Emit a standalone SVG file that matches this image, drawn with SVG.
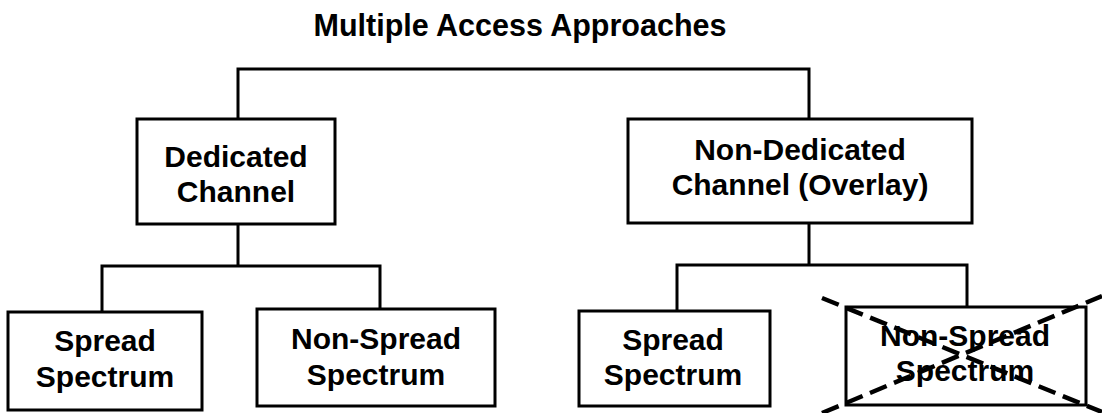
<svg xmlns="http://www.w3.org/2000/svg" width="1102" height="413" viewBox="0 0 1102 413">
  <style>
    .box { fill: #fff; stroke: #000; stroke-width: 3; }
    .wire { fill: none; stroke: #000; stroke-width: 3; }
    .lbl { font-family: "Liberation Sans", Arial, Helvetica, sans-serif; font-weight: bold; font-size: 30px; fill: #000; text-anchor: middle; }
    .title { font-size: 30.5px; }
    .cross { fill: none; stroke: #000; stroke-width: 4.5; stroke-dasharray: 18 8; }
  </style>
  <rect width="1102" height="413" fill="#fff"/>

  <text class="lbl title" x="520" y="36">Multiple Access Approaches</text>

  <!-- tree connectors -->
  <g id="connectors">
    <path class="wire" d="M238,119 V69 H809 V119"/>
    <path class="wire" d="M238,224 V266 M102,312 V266 H380 V309"/>
    <path class="wire" d="M809,223 V265 M677,311 V265 H967 V307"/>
  </g>

  <g id="dedicated">
    <rect class="box" x="137" y="119" width="198" height="105"/>
    <text class="lbl" x="236" y="167">Dedicated</text>
    <text class="lbl" x="236" y="202">Channel</text>
  </g>

  <g id="non-dedicated">
    <rect class="box" x="628" y="119" width="344" height="104"/>
    <text class="lbl" x="800" y="160">Non-Dedicated</text>
    <text class="lbl" x="800" y="195">Channel (Overlay)</text>
  </g>

  <g id="dedicated-spread">
    <rect class="box" x="8" y="312" width="194" height="98"/>
    <text class="lbl" x="105" y="351">Spread</text>
    <text class="lbl" x="105" y="387">Spectrum</text>
  </g>

  <g id="dedicated-non-spread">
    <rect class="box" x="257" y="309" width="238" height="97"/>
    <text class="lbl" x="376" y="349">Non-Spread</text>
    <text class="lbl" x="376" y="385">Spectrum</text>
  </g>

  <g id="overlay-spread">
    <rect class="box" x="579" y="311" width="191" height="95"/>
    <text class="lbl" x="673" y="350">Spread</text>
    <text class="lbl" x="673" y="385">Spectrum</text>
  </g>

  <g id="overlay-non-spread">
    <rect class="box" x="846" y="307" width="240" height="98"/>
    <text class="lbl" x="965" y="346">Non-Spread</text>
    <text class="lbl" x="965" y="381">Spectrum</text>
    <!-- struck out with a dashed X -->
    <path class="cross" d="M822,298 L1102,412 M822,413 L1102,296"/>
  </g>
</svg>
